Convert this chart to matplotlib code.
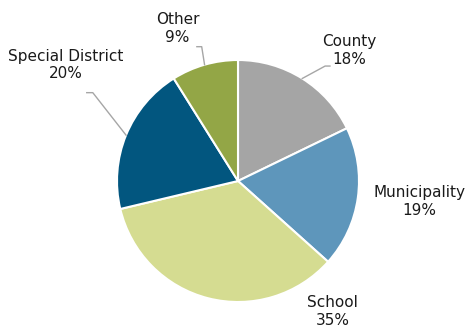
import numpy as np
import matplotlib
matplotlib.use('Agg')
import matplotlib.pyplot as plt

labels = ['County', 'Municipality', 'School', 'Special District', 'Other']
shares = [18, 19, 35, 20, 9]
colors = ['#a5a5a5', '#5e96bb', '#d5dc91', '#02567f', '#93a646']

# label centres (data units, pie radius = 1)
label_pos = [(0.92, 1.08), (1.50, -0.17), (0.78, -1.08), (-1.42, 0.96), (-0.50, 1.26)]
# leader lines: (text-side end, elbow) or None
leaders = [((0.76, 0.95), (0.72, 0.95)), None, None,
           ((-1.25, 0.73), (-1.20, 0.73)), ((-0.34, 1.11), (-0.30, 1.11))]

fig = plt.figure(figsize=(4.67, 3.33), dpi=100)
W, H = 467, 333
cx, cy, r = 238, 333 - 181, 121
ax = fig.add_axes([(cx - r) / W, (cy - r) / H, 2 * r / W, 2 * r / H])

wedges, _ = ax.pie(shares, colors=colors, startangle=90, counterclock=False,
                   radius=1, wedgeprops=dict(edgecolor='white', linewidth=1.5))
# pie() sets its own padded limits; pin them to the radius
ax.set_xlim(-1, 1)
ax.set_ylim(-1, 1)
ax.set_aspect('equal')
ax.axis('off')

for w, name, val, pos, ld in zip(wedges, labels, shares, label_pos, leaders):
    ax.text(pos[0], pos[1], f'{name}\n{val}%', ha='center', va='center',
            fontsize=11, color='#1a1a1a', linespacing=1.22, clip_on=False)
    if ld is not None:
        mid = np.deg2rad((w.theta1 + w.theta2) / 2)
        ex, ey = np.cos(mid) * 1.0, np.sin(mid) * 1.0
        (x0, y0), (x1, y1) = ld
        ax.plot([x0, x1, ex], [y0, y1, ey], color='#a6a6a6', lw=1, clip_on=False)

fig.savefig('out.png', dpi=100)
